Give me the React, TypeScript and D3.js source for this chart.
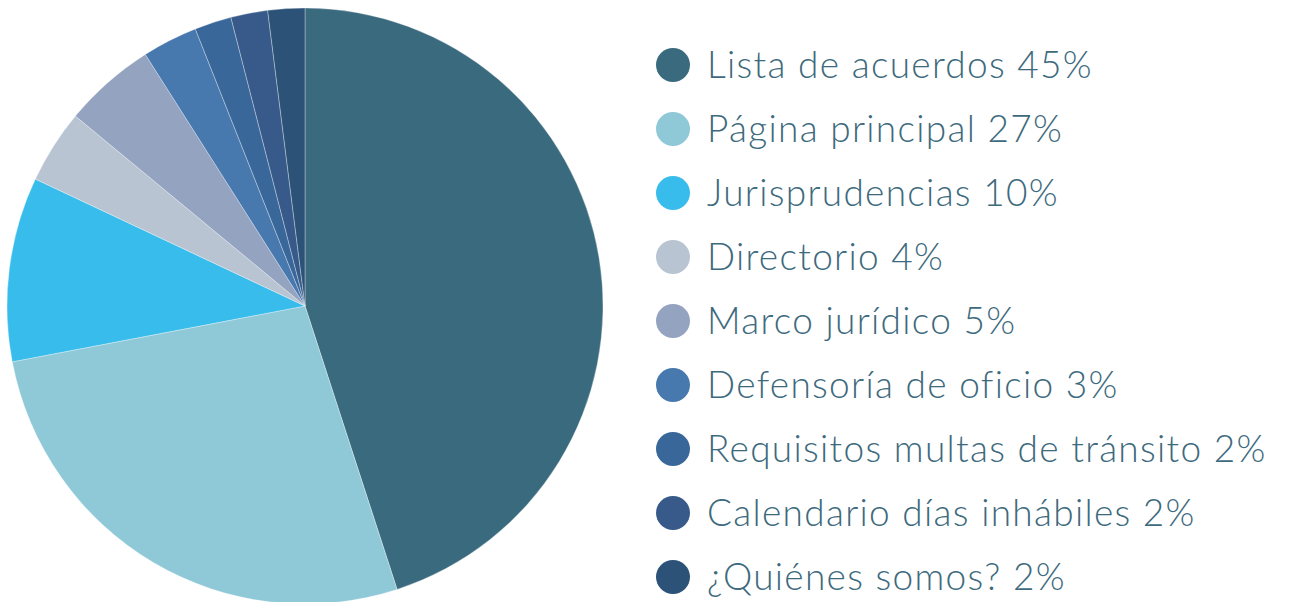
import React, { useEffect, useRef } from 'react';
import * as d3 from 'd3';

const categories = [
  'Lista de acuerdos',
  'Página principal',
  'Jurisprudencias',
  'Directorio',
  'Marco jurídico',
  'Defensoría de oficio',
  'Requisitos multas de tránsito',
  'Calendario días inhábiles',
  '¿Quiénes somos?',
];
const values = [45, 27, 10, 4, 5, 3, 2, 2, 2];
const colors = [
  '#3a6a7e',
  '#8fc9d8',
  '#37bceb',
  '#b9c4d3',
  '#93a3c0',
  '#4778ae',
  '#3a6799',
  '#375a8a',
  '#2c5277',
];

const App = () => {
  const ref = useRef<SVGSVGElement>(null);

  useEffect(() => {
    const width = 1291;
    const height = 602;
    const svg = d3.select(ref.current);
    svg.selectAll('*').remove();

    const data = categories.map((c, i) => ({ name: c, value: values[i], color: colors[i] }));

    // pie
    const cx = 305;
    const cy = 306;
    const r = 298;
    const pie = d3.pie<any>().sort(null).value((d) => d.value);
    const arc = d3.arc<any>().innerRadius(0).outerRadius(r);

    svg
      .append('g')
      .attr('transform', `translate(${cx},${cy})`)
      .selectAll('path')
      .data(pie(data))
      .join('path')
      .attr('d', arc)
      .attr('fill', (d) => d.data.color)
      .attr('stroke', 'rgba(255,255,255,0.45)')
      .attr('stroke-width', 0.7);

    // legend
    const y = d3.scaleBand().domain(categories).range([33, 609]);
    const legend = svg
      .append('g')
      .selectAll('g')
      .data(data)
      .join('g')
      .attr('transform', (d) => `translate(0,${y(d.name)! + y.bandwidth() / 2})`);

    legend.append('circle').attr('cx', 673).attr('cy', 0).attr('r', 17).attr('fill', (d) => d.color);

    legend
      .append('text')
      .attr('x', 707)
      .attr('y', 0)
      .attr('dy', '0.35em')
      .attr('fill', '#3d6a7d')
      .style('font-family', 'Lato, sans-serif')
      .style('font-weight', 300)
      .style('font-size', '37px')
      .style('letter-spacing', '1.3px')
      .text((d) => `${d.name} ${d.value}%`);

    svg.attr('width', width).attr('height', height);
  }, []);

  return (
    <div style={{ position: 'absolute', left: 0, top: 0 }}>
      <svg ref={ref} style={{ display: 'block', background: '#fff' }}></svg>
    </div>
  );
};

export default App;
